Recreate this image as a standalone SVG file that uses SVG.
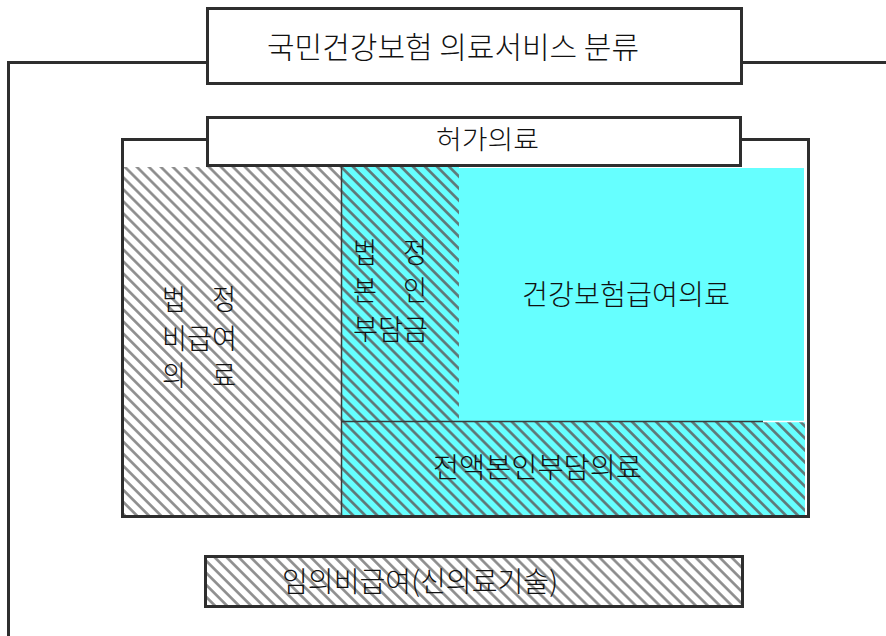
<svg xmlns="http://www.w3.org/2000/svg" width="886" height="636" viewBox="0 0 886 636">
<style>
.ln{fill:none;stroke:#2e2e2e;stroke-width:3}
.box{fill:#ffffff;stroke:#2e2e2e;stroke-width:3}
.t{font-family:"Noto Sans CJK KR","Noto Sans",sans-serif;font-size:28px;font-weight:300;fill:#111111}
.sep{stroke:#3a3a3a;stroke-width:1.5}
</style>
<defs>
<pattern id="hw" patternUnits="userSpaceOnUse" width="8.5" height="8.5" patternTransform="rotate(-45)">
<rect width="8.5" height="8.5" fill="#ffffff"/>
<line x1="4.25" y1="-1" x2="4.25" y2="9.5" stroke="#8a8a8a" stroke-width="2.6"/>
</pattern>
<pattern id="hc" patternUnits="userSpaceOnUse" width="8.5" height="8.5" patternTransform="rotate(-45)">
<rect width="8.5" height="8.5" fill="#66ffff"/>
<line x1="4.25" y1="-1" x2="4.25" y2="9.5" stroke="#5f7373" stroke-width="2.6"/>
</pattern>
</defs>
<rect width="886" height="636" fill="#ffffff"/>

<g id="outer-frame">
<polyline class="ln" points="8.5,636 8.5,62.5 886,62.5"/>
</g>

<g id="inner-frame">
<rect class="ln" x="122.5" y="139.5" width="686" height="377"/>
</g>

<g id="statutory-non-covered">
<rect x="124" y="167" width="217" height="348" fill="url(#hw)"/>
<text class="t" x="162" y="310" textLength="24" lengthAdjust="spacingAndGlyphs">법</text><text class="t" x="212" y="310" textLength="24" lengthAdjust="spacingAndGlyphs">정</text>
<text class="t" x="162" y="349" textLength="75" lengthAdjust="spacingAndGlyphs">비급여</text>
<text class="t" x="162" y="386" textLength="24" lengthAdjust="spacingAndGlyphs">의</text><text class="t" x="212" y="386" textLength="24" lengthAdjust="spacingAndGlyphs">료</text>
</g>

<g id="statutory-copay">
<rect x="341" y="167" width="118" height="255" fill="url(#hc)"/>
<text class="t" x="353" y="263" textLength="24" lengthAdjust="spacingAndGlyphs">법</text><text class="t" x="403" y="263" textLength="24" lengthAdjust="spacingAndGlyphs">정</text>
<text class="t" x="353" y="301" textLength="24" lengthAdjust="spacingAndGlyphs">본</text><text class="t" x="403" y="301" textLength="24" lengthAdjust="spacingAndGlyphs">인</text>
<text class="t" x="353" y="340" textLength="75" lengthAdjust="spacingAndGlyphs">부담금</text>
</g>

<g id="insurance-covered">
<rect x="459" y="168" width="345" height="254" fill="#66ffff"/>
<text class="t" x="522" y="305" textLength="208" lengthAdjust="spacingAndGlyphs">건강보험급여의료</text>
</g>

<g id="full-self-pay">
<rect x="341" y="422" width="464" height="93" fill="url(#hc)"/>
<text class="t" x="433" y="478" textLength="209" lengthAdjust="spacingAndGlyphs">전액본인부담의료</text>
</g>

<g id="separators">
<line class="sep" x1="341.5" y1="167" x2="341.5" y2="515"/>
<line class="sep" x1="341" y1="421.5" x2="763" y2="421.5"/>
<line x1="763" y1="421.5" x2="805" y2="421.5" stroke="#ffffff" stroke-width="1.5"/>
</g>

<g id="title">
<rect class="box" x="207.5" y="8.5" width="534" height="75"/>
<text class="t" x="267" y="58" style="font-size:30px" textLength="372" lengthAdjust="spacingAndGlyphs">국민건강보험 의료서비스 분류</text>
</g>

<g id="licensed-care">
<rect class="box" x="207.5" y="117.5" width="533" height="48"/>
<text class="t" x="436" y="149" style="font-size:26px" textLength="103" lengthAdjust="spacingAndGlyphs">허가의료</text>
</g>

<g id="arbitrary-non-covered">
<rect x="205.5" y="556.5" width="537" height="50" fill="url(#hw)" stroke="#2e2e2e" stroke-width="3"/>
<text class="t" x="282" y="592" textLength="276" lengthAdjust="spacingAndGlyphs">임의비급여(신의료기술)</text>
</g>
</svg>
